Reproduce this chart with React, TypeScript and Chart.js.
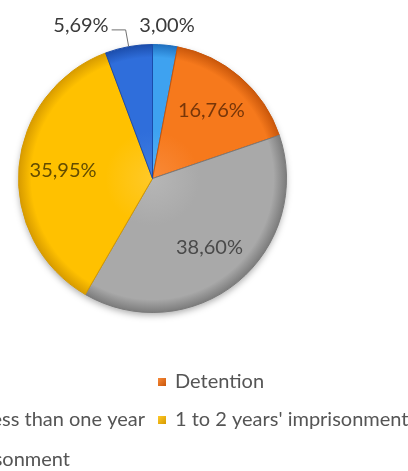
import { useEffect, useRef } from "react";
import { Chart, registerables } from "chart.js";

Chart.register(...registerables);

// ---- data ----
const categories = [
  "Fine",
  "Detention",
  "Imprisonment less than one year",
  "1 to 2 years' imprisonment",
  "Over 2 years' imprisonment",
];
const shares = [3.0, 16.76, 38.6, 35.95, 5.69];

// ---- styles ----
const sliceColors = ["#3EA2F0", "#F6791C", "#A9A9A9", "#FFC100", "#2F6EDB"];
const sliceLight = ["#5AB2F4", "#F98A38", "#B6B6B6", "#FFC928", "#3F7EE2"];
const sliceDark = ["#1E6FBF", "#C8560A", "#7A7A7A", "#D69A00", "#1B4CAA"];
const labelColors = ["#3A3A3A", "#773609", "#4A4A4A", "#634C00", "#3A3A3A"];
const FONT = "Lato, 'Open Sans', sans-serif";

const fmt = (v: number) => v.toFixed(2).replace(".", ",") + "%";

function sliceFill(c: any) {
  const chart = c.chart;
  const i = c.dataIndex ?? 0;
  const area = chart.chartArea;
  if (!area) return sliceColors[i];
  const cx = (area.left + area.right) / 2;
  const cy = (area.top + area.bottom) / 2;
  const r = Math.min(area.right - area.left, area.bottom - area.top) / 2;
  const g = chart.ctx.createRadialGradient(cx, cy, 0, cx, cy, r);
  g.addColorStop(0, sliceLight[i]);
  g.addColorStop(0.35, sliceColors[i]);
  g.addColorStop(0.9, sliceColors[i]);
  g.addColorStop(1, sliceDark[i]);
  return g;
}

const shadowPlugin = {
  id: "pieShadow",
  beforeDatasetsDraw(chart: any) {
    const arc: any = chart.getDatasetMeta(0).data[0];
    if (!arc) return;
    const { x, y, outerRadius } = arc.getProps(["x", "y", "outerRadius"], true);
    const ctx = chart.ctx;
    ctx.save();
    ctx.shadowColor = "rgba(0,0,0,0.35)";
    ctx.shadowBlur = 7;
    ctx.shadowOffsetX = 0;
    ctx.shadowOffsetY = 3;
    ctx.beginPath();
    ctx.arc(x, y, outerRadius - 0.5, 0, Math.PI * 2);
    ctx.fillStyle = "#ffffff";
    ctx.fill();
    ctx.restore();
  },
};

const labelPlugin = {
  id: "pieLabels",
  afterDatasetsDraw(chart: any) {
    const ctx = chart.ctx;
    const meta = chart.getDatasetMeta(0);
    ctx.save();
    ctx.font = `20px ${FONT}`;
    ctx.textBaseline = "middle";
    meta.data.forEach((arc: any, i: number) => {
      const { x, y, startAngle, endAngle, outerRadius } = arc.getProps(
        ["x", "y", "startAngle", "endAngle", "outerRadius"],
        true
      );
      const mid = (startAngle + endAngle) / 2;
      const cos = Math.cos(mid);
      const sin = Math.sin(mid);
      const text = fmt(shares[i]);
      if (shares[i] >= 6) {
        const r = outerRadius * 0.67;
        ctx.fillStyle = labelColors[i];
        ctx.textAlign = "center";
        ctx.fillText(text, x + r * cos, y + r * sin);
      } else if (cos >= 0) {
        const r = outerRadius + 20;
        ctx.fillStyle = labelColors[i];
        ctx.textAlign = "center";
        ctx.fillText(text, x + r * cos, y + r * sin);
      } else {
        const ex = x + outerRadius * cos;
        const ey = y + outerRadius * sin;
        const r2 = outerRadius + 17;
        const bx = x + r2 * cos;
        const by = y + r2 * sin;
        const hx = bx - 14;
        ctx.strokeStyle = "#707070";
        ctx.lineWidth = 1;
        ctx.beginPath();
        ctx.moveTo(ex, ey);
        ctx.lineTo(bx, by);
        ctx.lineTo(hx, by);
        ctx.stroke();
        ctx.fillStyle = labelColors[i];
        ctx.textAlign = "right";
        ctx.fillText(text, hx - 3, by - 4);
      }
    });
    ctx.restore();
  },
};

// legend laid out as a two-column grid (partly outside the visible frame)
const legendRows = [[0, 1], [2, 3], [4]];
const legendRowY = [382, 420, 460];
const legendCol1Box = 158;
const legendCol0TextEnd = [-40, 145, 70];

const legendPlugin = {
  id: "gridLegend",
  afterDraw(chart: any) {
    const ctx = chart.ctx;
    ctx.save();
    ctx.font = `20px ${FONT}`;
    ctx.textBaseline = "middle";
    ctx.textAlign = "left";
    legendRows.forEach((row, ri) => {
      const yy = legendRowY[ri];
      row.forEach((idx, ci) => {
        const label = categories[idx];
        let boxX: number;
        let textX: number;
        if (ci === 1) {
          boxX = legendCol1Box;
          textX = boxX + 17;
        } else {
          const w = ctx.measureText(label).width;
          textX = legendCol0TextEnd[ri] - w;
          boxX = textX - 17;
        }
        const g = ctx.createLinearGradient(boxX, yy - 4, boxX + 8, yy + 4);
        g.addColorStop(0, sliceLight[idx]);
        g.addColorStop(1, sliceDark[idx]);
        ctx.fillStyle = g;
        ctx.fillRect(boxX, yy - 4, 8, 8);
        ctx.fillStyle = "#555555";
        ctx.fillText(label, textX, yy);
      });
    });
    ctx.restore();
  },
};

export default function App() {
  const ref = useRef<HTMLCanvasElement>(null);
  useEffect(() => {
    const chart = new Chart(ref.current!, {
      type: "pie",
      data: {
        labels: categories,
        datasets: [
          {
            data: shares,
            backgroundColor: sliceFill as any,
            borderColor: sliceDark,
            borderWidth: 1,
            hoverOffset: 0,
            offset: 0,
          },
        ],
      },
      options: {
        responsive: false,
        animation: false,
        layout: { padding: { left: 18, right: 121, top: 44, bottom: 158 } },
        plugins: {
          legend: { display: false },
          tooltip: { enabled: false },
        },
      },
      plugins: [shadowPlugin, labelPlugin, legendPlugin],
    });
    return () => chart.destroy();
  }, []);
  return (
    <div
      style={{
        position: "fixed",
        left: 0,
        top: 0,
        width: 408,
        height: 471,
        background: "#ffffff",
      }}
    >
      <canvas
        ref={ref}
        width={408}
        height={471}
        style={{ display: "block", width: 408, height: 471 }}
      />
    </div>
  );
}
